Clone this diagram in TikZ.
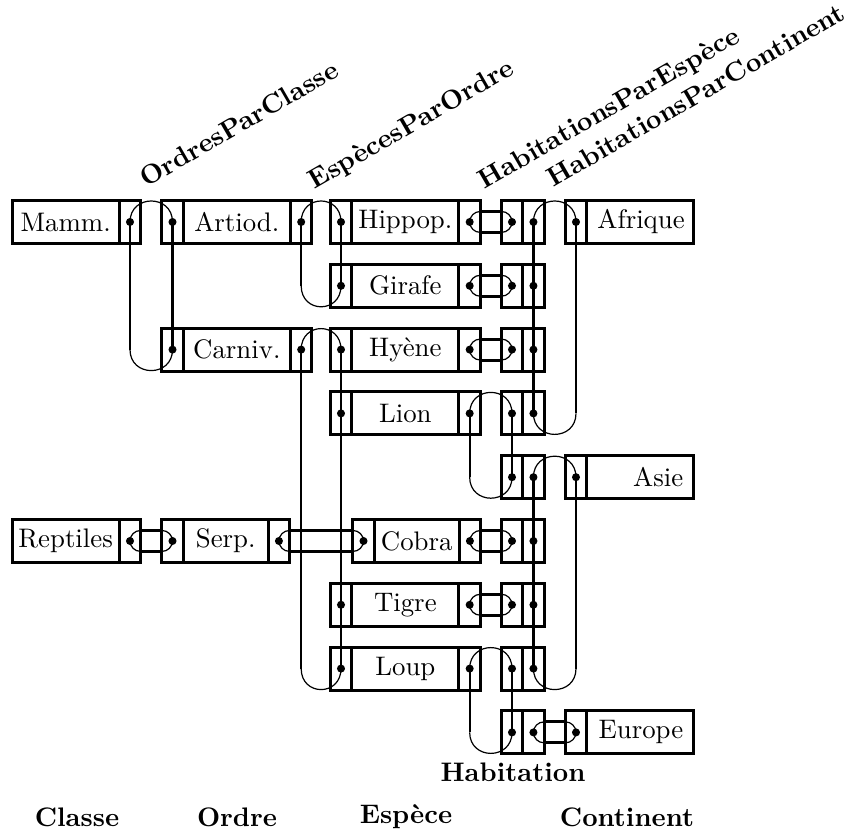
\documentclass[tikz,border=0pt]{standalone}
\usetikzlibrary{positioning}
\begin{document}
\begin{tikzpicture}[x=0.373pt,y=-0.373pt]
    \tikzset{cell/.style = {draw,line width=1.1pt,minimum width=8pt,minimum height=16pt,inner sep=0pt,outer sep=0pt,
        path picture={\fill (path picture bounding box.center) circle[radius=1.5pt];}}}
    \tikzset{rec/.style = {draw,line width=1.1pt,minimum width=40pt,minimum height=16pt,inner sep=0pt,outer sep=0pt}}
    \tikzset{shortrec/.style = {rec,minimum width=31.7pt}}
    \tikzset{contrec/.style = {rec,text width=32pt,inner xsep=4pt,align=right}}
    \tikzset{rot/.style = {anchor=base west,rotate=30,inner sep=0pt,font=\bfseries}}
    \tikzset{title/.style = {anchor=base,inner sep=0pt,font=\bfseries}}
    \tikzset{next/.style = {line width=1pt}}
    \tikzset{back/.style = {line width=0.8pt}}
    \tikzset{over/.style = {line width=0.45pt,to path={.. controls +(0,-28) and +(0,-28) .. (\tikztotarget)}}}
    \tikzset{under/.style = {line width=0.45pt,to path={.. controls +(0,28) and +(0,28) .. (\tikztotarget)}}}
    \tikzset{loopline/.style = {line width=1.1pt,to path={([shift={(10.5,-10.5)}]\tikztostart) -- ([shift={(-10.5,-10.5)}]\tikztotarget)
        ([shift={(10.5,10.5)}]\tikztostart) -- ([shift={(-10.5,10.5)}]\tikztotarget)}}}
    \tikzset{loopend/.style = {line width=0.45pt,to path={([shift={(10.5,-10.5)}]\tikztostart) arc[start angle=90,end angle=270,radius=3.9pt]
        ([shift={(-10.5,-10.5)}]\tikztotarget) arc[start angle=90,end angle=-90,radius=3.9pt]}}}
    \useasboundingbox (0,0) rectangle (850,835);
    % classes
    \node[cell] (mammP) at (130,222) {};
    \node[rec, left=0pt of mammP] (mamm) {Mamm.};
    \node[cell] (reptP) at (130,541) {};
    \node[rec, left=0pt of reptP] (rept) {Reptiles};
    % ordres
    \node[cell] (artiodL) at (172.5,222) {};
    \node[rec, right=0pt of artiodL] (artiod) {Artiod.};
    \node[cell, right=0pt of artiod] (artiodR) {};
    \node[cell] (carnivL) at (172.5,349.6) {};
    \node[rec, right=0pt of carnivL] (carniv) {Carniv.};
    \node[cell, right=0pt of carniv] (carnivR) {};
    \node[cell] (serpL) at (172.5,541) {};
    \node[shortrec, right=0pt of serpL] (serp) {Serp.};
    \node[cell, right=0pt of serp] (serpR) {};
    % especes
    \node[cell] (hippopL) at (341,222) {};
    \node[rec, right=0pt of hippopL] (hippop) {Hippop.};
    \node[cell, right=0pt of hippop] (hippopR) {};
    \node[cell] (girafeL) at (341,285.8) {};
    \node[rec, right=0pt of girafeL] (girafe) {Girafe};
    \node[cell, right=0pt of girafe] (girafeR) {};
    \node[cell] (hyeneL) at (341,349.6) {};
    \node[rec, right=0pt of hyeneL] (hyene) {Hyène};
    \node[cell, right=0pt of hyene] (hyeneR) {};
    \node[cell] (lionL) at (341,413.4) {};
    \node[rec, right=0pt of lionL] (lion) {Lion};
    \node[cell, right=0pt of lion] (lionR) {};
    \node[cell] (cobraL) at (363.5,541) {};
    \node[shortrec, right=0pt of cobraL] (cobra) {Cobra};
    \node[cell, right=0pt of cobra] (cobraR) {};
    \node[cell] (tigreL) at (341,604.8) {};
    \node[rec, right=0pt of tigreL] (tigre) {Tigre};
    \node[cell, right=0pt of tigre] (tigreR) {};
    \node[cell] (loupL) at (341,668.6) {};
    \node[rec, right=0pt of loupL] (loup) {Loup};
    \node[cell, right=0pt of loup] (loupR) {};
    % habitations
    \node[cell] (hab1L) at (512,222) {};
    \node[cell, right=0pt of hab1L] (hab1R) {};
    \node[cell] (hab2L) at (512,285.8) {};
    \node[cell, right=0pt of hab2L] (hab2R) {};
    \node[cell] (hab3L) at (512,349.6) {};
    \node[cell, right=0pt of hab3L] (hab3R) {};
    \node[cell] (hab4L) at (512,413.4) {};
    \node[cell, right=0pt of hab4L] (hab4R) {};
    \node[cell] (hab5L) at (512,477.2) {};
    \node[cell, right=0pt of hab5L] (hab5R) {};
    \node[cell] (hab6L) at (512,541) {};
    \node[cell, right=0pt of hab6L] (hab6R) {};
    \node[cell] (hab7L) at (512,604.8) {};
    \node[cell, right=0pt of hab7L] (hab7R) {};
    \node[cell] (hab8L) at (512,668.6) {};
    \node[cell, right=0pt of hab8L] (hab8R) {};
    \node[cell] (hab9L) at (512,732.4) {};
    \node[cell, right=0pt of hab9L] (hab9R) {};
    % continents
    \node[cell] (afriqueP) at (576,222) {};
    \node[contrec, right=0pt of afriqueP] (afrique) {Afrique};
    \node[cell] (asieP) at (576,477.2) {};
    \node[contrec, right=0pt of asieP] (asie) {Asie};
    \node[cell] (europeP) at (576,732.4) {};
    \node[contrec, right=0pt of europeP] (europe) {Europe};
    % OrdresParClasse
    \draw[over] (mammP.center) to (artiodL.center);
    \draw[next] (artiodL.center) -- (carnivL.center);
    \draw[under] (carnivL.center) to (mammP.center |- carnivL.center);
    \draw[back] (mammP.center |- carnivL.center) -- (mammP.center);
    \draw[loopline] (reptP.center) to (serpL.center);
    \draw[loopend] (reptP.center) to (serpL.center);
    % EspecesParOrdre
    \draw[over] (artiodR.center) to (hippopL.center);
    \draw[next] (hippopL.center) -- (girafeL.center);
    \draw[under] (girafeL.center) to (artiodR.center |- girafeL.center);
    \draw[back] (artiodR.center |- girafeL.center) -- (artiodR.center);
    \draw[over] (carnivR.center) to (hyeneL.center);
    \draw[next] (hyeneL.center) -- (lionL.center) -- (tigreL.center) -- (loupL.center);
    \draw[under] (loupL.center) to (carnivR.center |- loupL.center);
    \draw[back] (carnivR.center |- loupL.center) -- (carnivR.center);
    \draw[loopline] (serpR.center) to (cobraL.center);
    \draw[loopend] (serpR.center) to (cobraL.center);
    % HabitationsParEspece
    \draw[loopline] (hippopR.center) to (hab1L.center);
    \draw[loopend] (hippopR.center) to (hab1L.center);
    \draw[loopline] (girafeR.center) to (hab2L.center);
    \draw[loopend] (girafeR.center) to (hab2L.center);
    \draw[loopline] (hyeneR.center) to (hab3L.center);
    \draw[loopend] (hyeneR.center) to (hab3L.center);
    \draw[over] (lionR.center) to (hab4L.center);
    \draw[next] (hab4L.center) -- (hab5L.center);
    \draw[under] (hab5L.center) to (lionR.center |- hab5L.center);
    \draw[back] (lionR.center |- hab5L.center) -- (lionR.center);
    \draw[loopline] (cobraR.center) to (hab6L.center);
    \draw[loopend] (cobraR.center) to (hab6L.center);
    \draw[loopline] (tigreR.center) to (hab7L.center);
    \draw[loopend] (tigreR.center) to (hab7L.center);
    \draw[over] (loupR.center) to (hab8L.center);
    \draw[next] (hab8L.center) -- (hab9L.center);
    \draw[under] (hab9L.center) to (loupR.center |- hab9L.center);
    \draw[back] (loupR.center |- hab9L.center) -- (loupR.center);
    % HabitationsParContinent
    \draw[over] (hab1R.center) to (afriqueP.center);
    \draw[next] (hab1R.center) -- (hab4R.center);
    \draw[under] (hab4R.center) to (afriqueP.center |- hab4R.center);
    \draw[back] (afriqueP.center |- hab4R.center) -- (afriqueP.center);
    \draw[over] (hab5R.center) to (asieP.center);
    \draw[next] (hab5R.center) -- (hab8R.center);
    \draw[under] (hab8R.center) to (asieP.center |- hab8R.center);
    \draw[back] (asieP.center |- hab8R.center) -- (asieP.center);
    \draw[loopline] (hab9R.center) to (europeP.center);
    \draw[loopend] (hab9R.center) to (europeP.center);
    % set names
    \node[rot] (opc) at (146,188) {OrdresParClasse};
    \node[rot] (epo) at (314,190) {EspècesParOrdre};
    \node[rot] (hpe) at (484,190) {HabitationsParEspèce};
    \node[rot] (hpc) at (553,188) {HabitationsParContinent};
    % record types
    \node[title] (tclasse) at (77,827) {Classe};
    \node[title] (tordre) at (237,827) {Ordre};
    \node[title] (tespece) at (406,824) {Espèce};
    \node[title] (thab) at (513,782) {Habitation};
    \node[title] (tcont) at (627,827) {Continent};
\end{tikzpicture}
\end{document}
